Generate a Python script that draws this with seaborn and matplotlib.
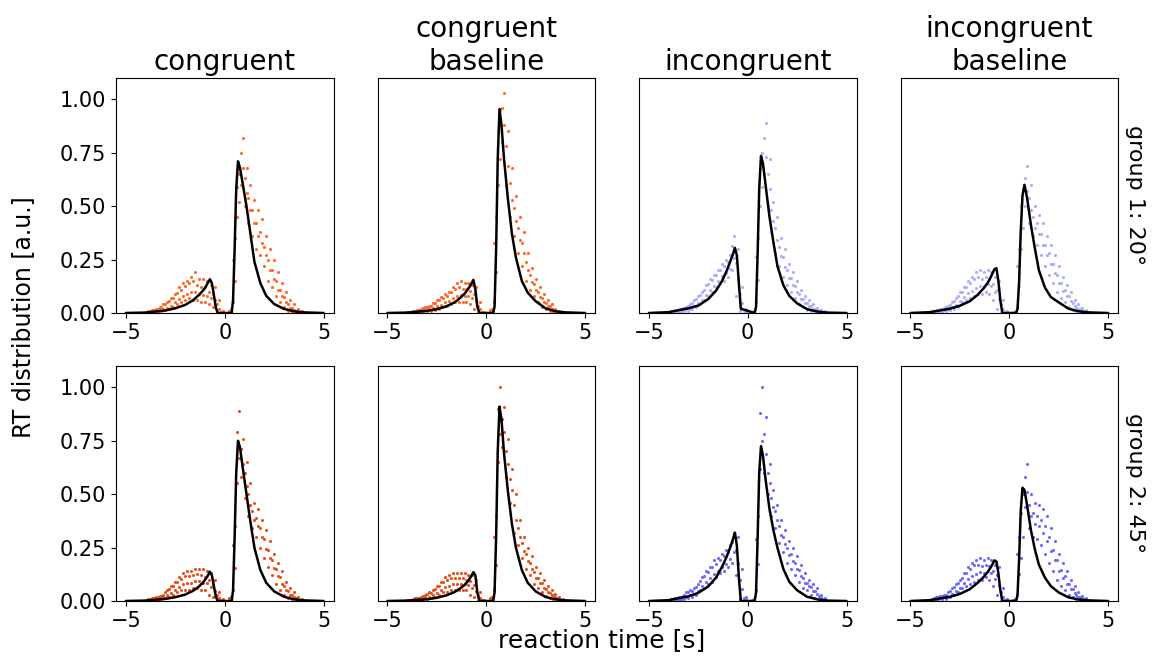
import numpy as np
import pandas as pd
import matplotlib
matplotlib.use('Agg')
import matplotlib.pyplot as plt
import seaborn as sns

# bin centres of the measured RT histograms (negative = error trials)
bins = [-4.0, -3.8, -3.6, -3.4, -3.2, -3.0, -2.8, -2.6, -2.4, -2.2,
        -2.0, -1.8, -1.6, -1.4, -1.2, -1.0, -0.8, -0.6, -0.4, -0.2,
        0.0, 0.2, 0.4, 0.6, 0.8, 1.0, 1.2, 1.4, 1.6, 1.8,
        2.0, 2.2, 2.4, 2.6, 2.8, 3.0, 3.2, 3.4, 3.6, 3.8]

# x grid of the model curves
curve_x = [-5.0, -4.0, -3.0, -2.5, -2.0, -1.6, -1.3, -1.1, -0.95, -0.85,
           -0.75, -0.65, -0.55, -0.45, -0.35,
           0.35, 0.42, 0.5, 0.58, 0.67, 0.77, 0.9, 1.1, 1.3, 1.5,
           1.8, 2.1, 2.5, 3.0, 3.5, 4.0, 5.0]

conditions = ['congruent', 'congruent\nbaseline', 'incongruent', 'incongruent\nbaseline']
groups = ['group 1: 20°', 'group 2: 45°']

# measured histograms, 4 subjects per panel
dots_cong_g1 = [
    [0, 0, .005, .005, .01, .015, .02, .03, .04, .05, .06, .07, .06, .06, .05, .05, .04, .03, 0, 0, 0, 0, .05, .45, .6, .5, .42, .36, .3, .27, .22, .15, .12, .08, .05, .03, .01, .005, 0, 0],
    [.003, .005, .01, .012, .02, .025, .035, .05, .065, .08, .09, .1, .1, .09, .085, .08, .07, .06, .02, 0, 0, .005, .15, .52, .68, .56, .48, .42, .36, .33, .27, .2, .16, .11, .08, .05, .025, .015, .005, 0],
    [.007, .01, .015, .02, .03, .04, .055, .07, .095, .11, .125, .14, .15, .13, .12, .12, .1, .09, .04, .005, 0, .01, .25, .59, .75, .63, .54, .48, .42, .38, .31, .25, .2, .15, .11, .075, .04, .025, .01, .005],
    [.01, .015, .02, .03, .04, .05, .07, .09, .12, .14, .15, .17, .19, .16, .16, .15, .13, .12, .06, .01, 0, .02, .35, .65, .82, .68, .6, .53, .48, .44, .36, .3, .25, .19, .14, .1, .06, .04, .02, .01],
]
dots_cong_base_g1 = [
    [0, 0, 0, .005, .005, .01, .01, .015, .02, .03, .035, .04, .05, .05, .05, .05, .04, .02, 0, 0, 0, 0, .05, .6, .8, .6, .45, .36, .28, .22, .15, .11, .08, .05, .03, .02, .01, .005, 0, 0],
    [.002, .003, .005, .01, .014, .019, .022, .031, .039, .051, .058, .068, .081, .085, .081, .081, .071, .055, .018, .002, 0, .007, .19, .72, .88, .69, .53, .43, .34, .28, .2, .145, .108, .074, .051, .034, .021, .01, .004, .002],
    [.004, .007, .011, .016, .023, .028, .035, .047, .06, .072, .081, .096, .113, .12, .113, .113, .103, .09, .035, .004, 0, .014, .33, .85, .96, .78, .61, .49, .4, .33, .24, .18, .136, .099, .072, .049, .031, .016, .007, .004],
    [.005, .01, .015, .02, .03, .035, .045, .06, .075, .09, .1, .12, .14, .15, .14, .14, .13, .12, .05, .005, 0, .02, .45, .95, 1.03, .85, .68, .55, .45, .38, .28, .21, .16, .12, .09, .06, .04, .02, .01, .005],
]
dots_incong_g1 = [
    [0, 0, 0, .005, .01, .01, .02, .03, .04, .06, .08, .1, .12, .14, .15, .17, .2, .08, .01, 0, 0, 0, .05, .5, .65, .5, .38, .28, .22, .17, .13, .1, .07, .04, .03, .015, .01, .005, 0, 0],
    [.003, .005, .007, .012, .017, .021, .034, .048, .061, .085, .108, .128, .148, .172, .185, .205, .256, .158, .048, .007, 0, .003, .155, .59, .73, .58, .43, .34, .265, .215, .165, .132, .098, .065, .048, .031, .021, .012, .005, .003],
    [.007, .01, .014, .019, .024, .031, .048, .065, .082, .109, .136, .156, .176, .203, .22, .24, .312, .234, .087, .014, 0, .007, .26, .68, .82, .65, .48, .4, .31, .26, .2, .163, .126, .087, .065, .046, .031, .019, .01, .007],
    [.01, .015, .02, .025, .03, .04, .06, .08, .1, .13, .16, .18, .2, .23, .25, .27, .36, .3, .12, .02, 0, .01, .35, .75, .89, .72, .52, .45, .35, .3, .23, .19, .15, .11, .08, .06, .04, .025, .015, .01],
]
dots_incong_base_g1 = [
    [0, 0, .005, .005, .01, .015, .02, .03, .05, .06, .07, .08, .09, .09, .1, .09, .06, .02, 0, 0, 0, 0, .03, .3, .5, .42, .36, .32, .27, .22, .18, .14, .1, .07, .05, .03, .015, .01, 0, 0],
    [.003, .005, .01, .012, .019, .027, .038, .055, .075, .092, .105, .119, .128, .125, .135, .125, .098, .065, .02, .003, 0, .003, .125, .4, .57, .48, .4, .37, .32, .27, .23, .185, .14, .104, .078, .055, .031, .02, .009, .005],
    [.007, .01, .015, .019, .028, .039, .055, .079, .099, .123, .14, .157, .167, .16, .17, .16, .137, .11, .042, .007, 0, .007, .22, .5, .63, .54, .45, .42, .37, .32, .28, .23, .18, .14, .11, .08, .046, .03, .018, .01],
    [.01, .015, .02, .025, .035, .05, .07, .1, .12, .15, .17, .19, .2, .19, .2, .19, .17, .15, .06, .01, 0, .01, .3, .58, .69, .6, .5, .46, .42, .36, .32, .27, .22, .17, .13, .1, .06, .04, .025, .015],
]
dots_cong_g2 = [
    [0, 0, .005, .005, .01, .015, .02, .03, .04, .05, .05, .05, .06, .06, .05, .05, .03, .02, 0, 0, 0, 0, .05, .55, .58, .48, .4, .34, .3, .25, .2, .16, .12, .08, .05, .03, .015, .01, 0, 0],
    [.003, .005, .01, .012, .017, .027, .038, .051, .065, .078, .082, .085, .093, .095, .085, .082, .065, .048, .014, .003, 0, .007, .155, .67, .64, .54, .45, .38, .35, .3, .245, .2, .155, .115, .08, .052, .03, .02, .007, .003],
    [.007, .01, .015, .019, .024, .04, .055, .072, .09, .105, .115, .115, .123, .125, .12, .113, .1, .076, .028, .007, 0, .014, .26, .79, .71, .6, .5, .42, .39, .34, .29, .24, .19, .15, .11, .07, .046, .03, .014, .007],
    [.01, .015, .02, .025, .03, .05, .07, .09, .11, .13, .14, .14, .15, .15, .15, .14, .13, .1, .04, .01, 0, .02, .35, .89, .76, .65, .55, .46, .43, .38, .33, .28, .22, .18, .14, .09, .06, .04, .02, .01],
]
dots_cong_base_g2 = [
    [0, 0, .005, .005, .01, .01, .015, .02, .03, .04, .04, .05, .05, .05, .05, .05, .03, .02, 0, 0, 0, 0, .05, .65, .72, .58, .46, .32, .26, .2, .15, .12, .08, .06, .04, .025, .015, .01, 0, 0],
    [.002, .003, .008, .01, .017, .02, .027, .037, .051, .065, .068, .078, .078, .078, .078, .075, .061, .048, .014, .002, 0, .007, .17, .78, .79, .64, .52, .38, .3, .235, .185, .15, .108, .085, .06, .04, .027, .019, .007, .003],
    [.004, .007, .012, .015, .024, .031, .039, .055, .072, .09, .096, .106, .106, .106, .106, .099, .093, .076, .028, .004, 0, .014, .3, .9, .85, .7, .57, .45, .34, .27, .22, .18, .136, .108, .082, .057, .039, .028, .014, .007],
    [.005, .01, .015, .02, .03, .04, .05, .07, .09, .11, .12, .13, .13, .13, .13, .12, .12, .1, .04, .005, 0, .02, .4, 1.0, .91, .76, .62, .5, .38, .3, .25, .21, .16, .13, .1, .07, .05, .035, .02, .01],
]
dots_incong_g2 = [
    [0, 0, .005, .005, .01, .015, .02, .03, .05, .06, .08, .09, .11, .13, .14, .16, .18, .12, .01, 0, 0, 0, .05, .62, .6, .5, .4, .34, .27, .23, .18, .15, .12, .09, .06, .05, .03, .015, .005, 0],
    [.003, .005, .01, .012, .021, .027, .034, .048, .071, .088, .108, .125, .142, .16, .175, .195, .229, .18, .058, .007, 0, .003, .175, .75, .69, .55, .44, .38, .31, .265, .215, .185, .152, .118, .085, .068, .047, .031, .014, .005],
    [.007, .01, .015, .019, .03, .04, .048, .065, .092, .116, .136, .16, .173, .193, .21, .23, .278, .24, .1, .014, 0, .007, .29, .88, .78, .6, .48, .42, .35, .3, .25, .22, .18, .147, .109, .085, .065, .046, .022, .01],
    [.01, .015, .02, .025, .04, .05, .06, .08, .11, .14, .16, .19, .2, .22, .24, .26, .32, .3, .15, .02, 0, .01, .4, 1.0, .86, .64, .52, .45, .38, .33, .28, .25, .21, .17, .13, .1, .08, .06, .03, .015],
]
dots_incong_base_g2 = [
    [0, 0, .005, .01, .01, .02, .03, .04, .06, .07, .08, .09, .1, .1, .11, .1, .07, .03, 0, 0, 0, 0, .03, .2, .44, .34, .3, .29, .26, .22, .18, .14, .1, .07, .05, .03, .02, .01, .005, 0],
    [.003, .007, .012, .017, .02, .034, .047, .061, .085, .101, .115, .125, .135, .131, .14, .131, .105, .075, .02, .003, 0, .003, .125, .3, .51, .4, .36, .35, .32, .28, .235, .19, .14, .108, .08, .055, .037, .02, .012, .005],
    [.007, .014, .018, .024, .03, .048, .065, .082, .109, .133, .15, .167, .17, .163, .17, .163, .141, .12, .042, .007, 0, .007, .22, .41, .58, .45, .41, .4, .38, .35, .3, .24, .19, .147, .115, .08, .055, .03, .019, .01],
    [.01, .02, .025, .03, .04, .06, .08, .1, .13, .16, .18, .19, .2, .19, .2, .19, .17, .16, .06, .01, 0, .01, .3, .5, .64, .5, .46, .45, .43, .4, .34, .28, .22, .18, .14, .1, .07, .04, .025, .015],
]

# model fits
curve_cong_g1 = [0, .002, .012, .022, .038, .06, .085, .105, .125, .142, .158, .14, .085, .025, 0,
                 0, .06, .3, .58, .71, .68, .61, .5, .37, .24, .14, .08, .042, .019, .008, .003, 0]
curve_cong_base_g1 = [0, .002, .01, .018, .032, .05, .072, .09, .108, .122, .138, .155, .11, .03, 0,
                      0, .03, .3, .72, .955, .88, .72, .53, .37, .26, .15, .095, .055, .022, .008, .003, 0]
curve_incong_g1 = [0, .004, .022, .035, .065, .105, .15, .19, .225, .25, .275, .305, .27, .14, .02,
                   0, .03, .28, .58, .735, .7, .6, .45, .33, .22, .13, .08, .045, .018, .007, .002, 0]
curve_incong_base_g1 = [0, .004, .02, .034, .055, .085, .115, .14, .165, .185, .205, .21, .15, .06, 0,
                        0, .02, .15, .38, .55, .6, .54, .41, .3, .2, .12, .075, .05, .02, .008, .003, 0]
curve_cong_g2 = [0, .002, .01, .018, .03, .048, .068, .087, .105, .12, .137, .12, .07, .02, 0,
                 0, .05, .3, .6, .75, .72, .63, .5, .37, .25, .145, .085, .045, .02, .008, .003, 0]
curve_cong_base_g2 = [0, .002, .008, .015, .027, .042, .06, .075, .09, .103, .118, .135, .12, .04, 0,
                      0, .04, .3, .7, .91, .85, .69, .51, .36, .25, .145, .085, .045, .019, .008, .003, 0]
curve_incong_g2 = [0, .004, .022, .038, .068, .11, .16, .2, .235, .26, .29, .32, .26, .11, 0,
                   0, .04, .3, .6, .725, .68, .57, .43, .33, .25, .15, .09, .05, .02, .008, .002, 0]
curve_incong_base_g2 = [0, .004, .02, .033, .055, .085, .112, .135, .155, .172, .19, .185, .13, .05, 0,
                        0, .03, .2, .42, .53, .52, .45, .33, .24, .17, .11, .07, .04, .017, .007, .003, 0]

dots = [[dots_cong_g1, dots_cong_base_g1, dots_incong_g1, dots_incong_base_g1],
        [dots_cong_g2, dots_cong_base_g2, dots_incong_g2, dots_incong_base_g2]]
curves = [[curve_cong_g1, curve_cong_base_g1, curve_incong_g1, curve_incong_base_g1],
          [curve_cong_g2, curve_cong_base_g2, curve_incong_g2, curve_incong_base_g2]]
colors = [['#ff6a2a', '#ff6a2a', '#a9aeff', '#a9aeff'],
          ['#e8501c', '#e8501c', '#6b6bff', '#6b6bff']]

sns.set_theme(style='ticks', rc={'axes.edgecolor': 'black', 'axes.linewidth': 0.8,
                                 'text.color': 'black', 'axes.labelcolor': 'black',
                                 'xtick.color': 'black', 'ytick.color': 'black',
                                 'xtick.major.size': 3.5, 'ytick.major.size': 3.5,
                                 'xtick.major.width': 0.8, 'ytick.major.width': 0.8})
plt.rcParams['font.family'] = ['DejaVu Sans']

fig, axes = plt.subplots(2, 4, figsize=(11.53, 6.57), dpi=100)
fig.subplots_adjust(left=116 / 1153, right=1118 / 1153, top=1 - 78 / 657, bottom=1 - 601 / 657,
                    wspace=44 / 217.5, hspace=53 / 235)

for i in range(2):
    for j in range(4):
        ax = axes[i, j]
        n = len(dots[i][j])
        # alternate subjects sit half a bin apart
        xs = np.concatenate([np.asarray(bins) + 0.1 * (k % 2) for k in range(n)])
        df = pd.DataFrame({'rt': xs, 'density': np.concatenate(dots[i][j])})
        sns.scatterplot(data=df, x='rt', y='density', color=colors[i][j], s=5,
                        linewidth=0, ax=ax)
        sns.lineplot(x=curve_x, y=curves[i][j], color='black', lw=1.8, ax=ax)
        ax.set_xlim(-5.5, 5.5)
        ax.set_ylim(0, 1.1)
        ax.set_xticks([-5, 0, 5])
        ax.set_xlabel('')
        ax.set_ylabel('')
        ax.tick_params(labelsize=15)
        if j == 0:
            ax.set_yticks([0, 0.25, 0.5, 0.75, 1.0])
            ax.set_yticklabels(['0.00', '0.25', '0.50', '0.75', '1.00'])
        else:
            ax.set_yticks([])
        if i == 0:
            ax.set_title(conditions[j], fontsize=20)
        if j == 3:
            ax.text(1.03, 0.5, groups[i], transform=ax.transAxes, rotation=270,
                    va='center', ha='left', fontsize=16)

fig.text(0.522, 0.025, 'reaction time [s]', ha='center', va='center', fontsize=18)
fig.text(0.02, 0.517, 'RT distribution [a.u.]', ha='center', va='center',
         rotation=90, fontsize=17)

fig.savefig('out.png', dpi=100)
